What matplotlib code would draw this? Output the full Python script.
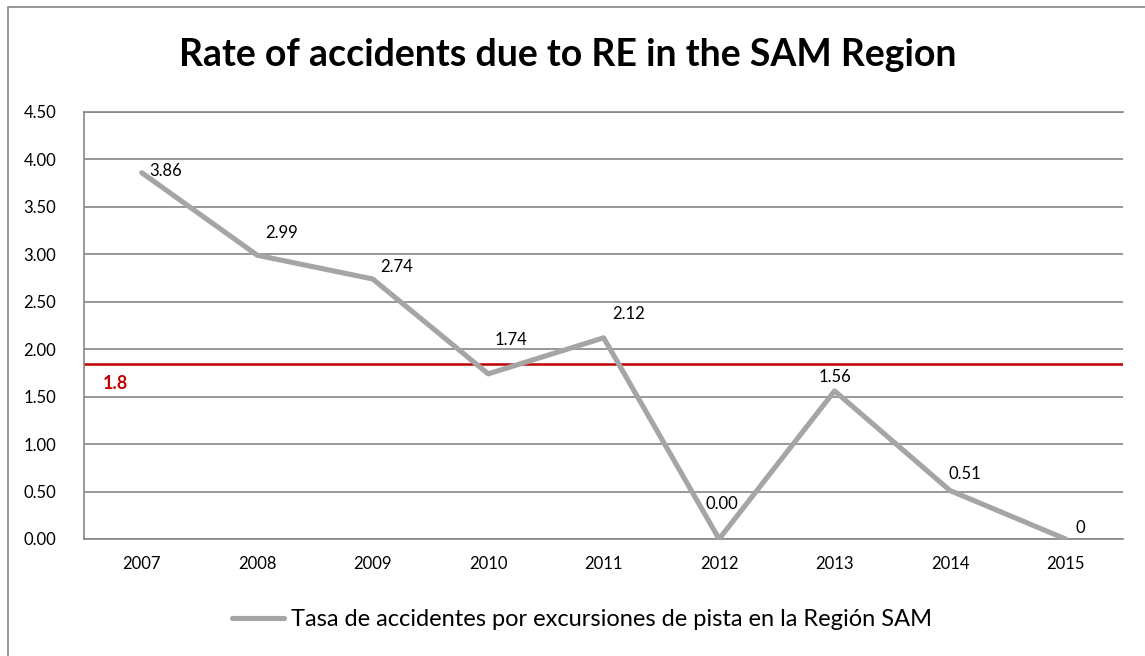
import matplotlib.pyplot as plt
from matplotlib.patches import Rectangle

plt.rcParams['font.family'] = ['Lato', 'DejaVu Sans']

# data
years = ['2007', '2008', '2009', '2010', '2011', '2012', '2013', '2014', '2015']
rates = [3.86, 2.99, 2.74, 1.74, 2.12, 0.00, 1.56, 0.51, 0.00]
rate_labels = ['3.86', '2.99', '2.74', '1.74', '2.12', '0.00', '1.56', '0.51', '0']
target = 1.84
target_label = '1.8'
yticks = [0.0, 0.5, 1.0, 1.5, 2.0, 2.5, 3.0, 3.5, 4.0, 4.5]

# label offsets in pixels (dx, dy)
label_offsets = [(24, 2), (24, 22), (24, 12), (23, 34), (25, 24), (3, 35), (0, 14), (15, 17), (15, 11)]

fig = plt.figure(figsize=(11.45, 6.56), dpi=100)
ax = fig.add_axes([0.0734, 0.1784, 0.9076, 0.6509])

# outer chart border
fig.patches.append(Rectangle((8 / 1145, -0.1), 1.2, 1 - 7 / 656 + 0.1, transform=fig.transFigure,
                             fill=False, edgecolor='#868686', linewidth=1.2))

x = list(range(len(years)))
line, = ax.plot(x, rates, color='#a5a5a5', linewidth=3.7, solid_capstyle='round',
                label='Tasa de accidentes por excursiones de pista en la Región SAM', zorder=3)

for xi, v, lab, (dx, dy) in zip(x, rates, rate_labels, label_offsets):
    ax.annotate(lab, (xi, v), xytext=(dx, dy), textcoords='offset pixels',
                ha='center', va='center', fontsize=12, color='black', zorder=4)

ax.axhline(target, color='#c00000', linewidth=1.8, zorder=2)
ax.text(0.03, target - 0.2, target_label, transform=ax.get_yaxis_transform(),
        color='#c00000', fontsize=13, fontweight='bold', ha='center', va='center')

ax.set_xlim(-0.5, len(years) - 0.5)
ax.set_ylim(0, 4.5)
ax.set_xticks(x)
ax.set_xticklabels(years)
ax.set_yticks(yticks)
ax.set_yticklabels(['%.2f' % t for t in yticks])
ax.tick_params(axis='both', length=0, labelsize=12, pad=12)
ax.tick_params(axis='y', pad=20)
ax.grid(axis='y', color='#868686', linewidth=1.2)
ax.set_axisbelow(True)
for side in ['left', 'bottom', 'top']:
    ax.spines[side].set_color('#868686')
    ax.spines[side].set_linewidth(1.2)
ax.spines['right'].set_visible(False)

fig.text(0.496, 1 - 55 / 656, 'Rate of accidents due to RE in the SAM Region',
         ha='center', va='center', fontsize=27, fontweight='bold')

fig.legend(handles=[line], loc='center', bbox_to_anchor=(0.508, 1 - 620 / 656), frameon=False,
           fontsize=17, handlelength=2.2, handletextpad=0.3)

fig.savefig('out.png', dpi=100)
